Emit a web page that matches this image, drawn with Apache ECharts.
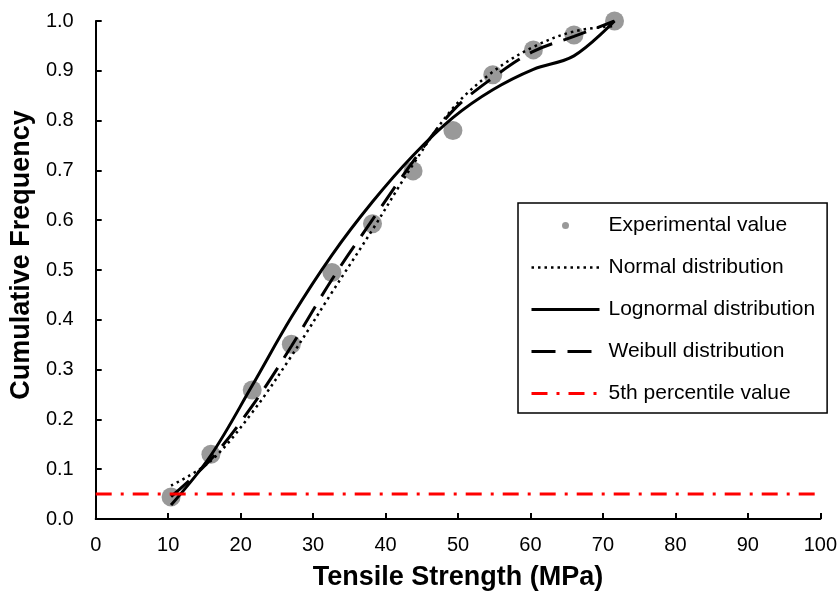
<!DOCTYPE html>
<html>
<head>
<meta charset="utf-8">
<script src="https://cdn.jsdelivr.net/npm/echarts@6/dist/echarts.min.js"></script>
<style>
  html, body { margin: 0; padding: 0; background: #fff; }
  #chart { width: 840px; height: 596px; }
</style>
</head>
<body>
<div id="chart"></div>
<script>
// tensile strength (MPa) of the specimens, sorted
const strengthX = [10.4, 15.9, 21.6, 27.0, 32.6, 38.2, 43.8, 49.3, 54.8, 60.4, 66.0, 71.6]
const experimental = [0.044, 0.130, 0.259, 0.351, 0.495, 0.593, 0.699, 0.780, 0.892, 0.942, 0.972, 1.0]
const normalCdf = [0.067, 0.117, 0.214, 0.327, 0.455, 0.581, 0.712, 0.825, 0.898, 0.948, 0.979, 0.99]
const lognormalCdf = [0.028, 0.128, 0.268, 0.405, 0.530, 0.637, 0.730, 0.806, 0.862, 0.903, 0.930, 1.0]
const weibullCdf = [0.045, 0.120, 0.227, 0.347, 0.481, 0.601, 0.718, 0.820, 0.886, 0.939, 0.969, 1.0]
// 5th percentile reference line
const percentileX = [0, 100]
const percentileY = [0.05, 0.05]

const seriesNames = ['Experimental value', 'Normal distribution', 'Lognormal distribution', 'Weibull distribution', '5th percentile value']

const pairs = (xs, ys) => xs.map((x, i) => [x, ys[i]])
const font = 'Liberation Sans, Arial, sans-serif'

const option = {
  animation: false,
  backgroundColor: '#fff',
  grid: { left: 95, right: 15, top: 21, bottom: 76 },
  legend: {
    orient: 'vertical',
    left: 518,
    top: 203,
    // only the scatter keeps a marker, the lines show just their stroke
    data: seriesNames.map((name, i) => (i === 0 ? { name } : {
      name,
      itemStyle: { color: 'rgba(0,0,0,0)', borderWidth: 0 },
      lineStyle: { width: i === 1 ? 2.5 : 3 }
    })),
    itemWidth: 68,
    itemHeight: 7,
    itemGap: 21,
    padding: [12, 12, 9, 12],
    borderColor: '#000',
    borderWidth: 1.5,
    textStyle: { fontFamily: font, fontSize: 21, color: '#000', padding: [0, 0, 0, 4] }
  },
  xAxis: {
    type: 'value',
    min: 0,
    max: 100,
    interval: 10,
    name: 'Tensile Strength (MPa)',
    nameLocation: 'middle',
    nameGap: 45,
    nameTextStyle: { fontFamily: font, fontSize: 27, fontWeight: 'bold', color: '#000' },
    axisLine: { lineStyle: { color: '#000', width: 2 } },
    axisTick: { inside: true, length: 6, lineStyle: { color: '#000', width: 2 } },
    axisLabel: { fontFamily: font, fontSize: 20, color: '#000', margin: 16 },
    splitLine: { show: false }
  },
  yAxis: {
    type: 'value',
    min: 0,
    max: 1,
    interval: 0.1,
    name: 'Cumulative Frequency',
    nameLocation: 'middle',
    nameGap: 60,
    nameTextStyle: { fontFamily: font, fontSize: 27, fontWeight: 'bold', color: '#000', padding: [0, 0, 0, 30] },
    axisLine: { lineStyle: { color: '#000', width: 2 } },
    axisTick: { inside: true, length: 6, lineStyle: { color: '#000', width: 2 } },
    axisLabel: { fontFamily: font, fontSize: 20, color: '#000', margin: 22, formatter: v => v.toFixed(1) },
    splitLine: { show: false }
  },
  series: [
    {
      name: seriesNames[0],
      type: 'scatter',
      symbol: 'circle',
      symbolSize: 19,
      symbolKeepAspect: true,
      itemStyle: { color: '#808080' },
      data: pairs(strengthX, experimental)
    },
    {
      name: seriesNames[1],
      type: 'line',
      symbol: 'none',
      smooth: 0.35,
      lineStyle: { color: '#000', width: 2.5, type: [2.5, 4] },
      itemStyle: { color: '#000' },
      data: pairs(strengthX, normalCdf)
    },
    {
      name: seriesNames[2],
      type: 'line',
      symbol: 'none',
      smooth: 0.35,
      lineStyle: { color: '#000', width: 3, type: 'solid' },
      itemStyle: { color: '#000' },
      data: pairs(strengthX, lognormalCdf)
    },
    {
      name: seriesNames[3],
      type: 'line',
      symbol: 'none',
      smooth: 0.35,
      lineStyle: { color: '#000', width: 3, type: [24, 12] },
      itemStyle: { color: '#000' },
      data: pairs(strengthX, weibullCdf)
    },
    {
      name: seriesNames[4],
      type: 'line',
      symbol: 'none',
      lineStyle: { color: '#ff0000', width: 3, type: [16, 9, 3, 9] },
      itemStyle: { color: '#ff0000' },
      data: pairs(percentileX, percentileY)
    }
  ]
}

const chart = echarts.init(document.getElementById('chart'), null, { renderer: 'canvas' })
chart.setOption(option)
</script>
</body>
</html>
